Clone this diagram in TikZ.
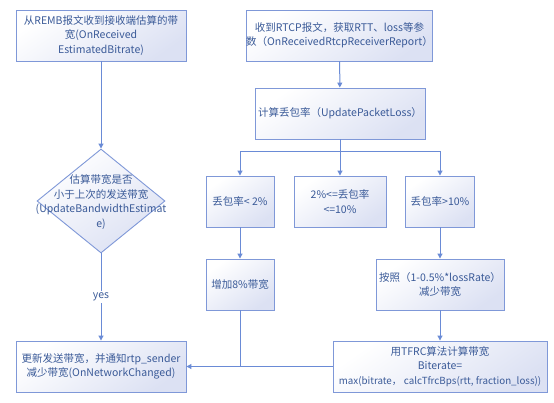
\documentclass[tikz,border=0pt]{standalone}
\usepackage{fontspec}
\setmainfont{Noto Sans CJK SC}
\usetikzlibrary{arrows.meta,shapes.geometric}
\definecolor{linec}{HTML}{6A8BD6}
\definecolor{boxd}{HTML}{7F98D8}
\definecolor{txtc}{HTML}{3A5A98}
\definecolor{shadec}{HTML}{DCE1F3}
\tikzset{
  fill box/.style={draw=boxd, line width=0.9pt, top color=white, bottom color=shadec, shading angle=35},
  box/.style={fill box, rectangle, inner sep=0pt, align=center, text=txtc,
    font=\fontsize{10.5pt}{14.5pt}\selectfont},
  diam/.style={fill box, diamond, inner sep=0pt, minimum width=128pt, minimum height=104pt},
  txt/.style={text=txtc, align=center, inner sep=0pt, font=\fontsize{10.5pt}{14.5pt}\selectfont},
  conn/.style={draw=linec, line width=1pt, -{Triangle[length=5pt,width=5pt]}},
  plain/.style={draw=linec, line width=1pt},
}
\begin{document}
\begin{tikzpicture}[x=1pt,y=-1pt]
\useasboundingbox[fill=white] (0,0) rectangle (554,402);
% top row
\node[box, minimum width=170pt, minimum height=51pt] (remb) at (101,35.5)
  {从REMB报文收到接收端估算的带\\宽(OnReceived\\EstimatedBitrate)};
\node[box, minimum width=185pt, minimum height=51pt] (rtcp) at (339.5,35.5)
  {收到RTCP报文，获取RTT、loss等参\\数（OnReceivedRtcpReceiverReport）};
\node[box, minimum width=170pt, minimum height=51pt] (loss) at (340,113.5)
  {计算丢包率（UpdatePacketLoss）};
% diamond
\node[diam] (dec) at (101,201) {};
\node[txt] (dectxt) at (101,202)
  {估算带宽是否\\小于上次的发送带宽\\(UpdateBandwidthEstimat\\e)};
% three branches
\node[box, minimum width=68pt, minimum height=51pt] (low) at (240,201.5) {丢包率< 2\%};
\node[box, minimum width=92pt, minimum height=51pt] (mid) at (340,201.5) {2\%<=丢包率\\<=10\%};
\node[box, minimum width=69pt, minimum height=51pt] (high) at (440,201.5) {丢包率>10\%};
\node[box, minimum width=68pt, minimum height=51pt] (inc) at (240,284.5) {增加8\%带宽};
\node[box, minimum width=128pt, minimum height=51pt] (dect) at (440,284.5)
  {按照（1-0.5\%*lossRate）\\减少带宽};
\node[box, minimum width=214pt, minimum height=51pt] (tfrc) at (440,366.5)
  {用TFRC算法计算带宽\\Biterate=\\{\fontsize{9.8pt}{14.5pt}\selectfont max(bitrate，\ calcTfrcBps(rtt, fraction\_loss))}};
\node[box, minimum width=170pt, minimum height=51pt] (upd) at (101,366.5)
  {更新发送带宽，并通知rtp\_sender\\减少带宽(OnNetworkChanged)};
% connectors
\coordinate (split) at (340,151);
\coordinate (join) at (240,366.5);
\draw[conn] (remb) -- (dec.north);
\draw[conn] (rtcp) -- (loss);
\draw[plain] (loss.south) -- (split);
\draw[conn] (split) -| (low.north);
\draw[conn] (split) -- (mid.north);
\draw[conn] (split) -| (high.north);
\draw[conn] (low) -- (inc);
\draw[conn] (high) -- (dect);
\draw[conn] (dect) -- (tfrc);
\draw[conn] (dec.south) -- node[fill=white, text=txtc, inner sep=1.5pt, font=\fontsize{10.5pt}{12pt}\selectfont] (yes) {yes} (upd.north);
\draw[plain] (inc.south) -- (join);
\draw[conn] (tfrc.west) -- (upd.east);
\end{tikzpicture}
\end{document}
